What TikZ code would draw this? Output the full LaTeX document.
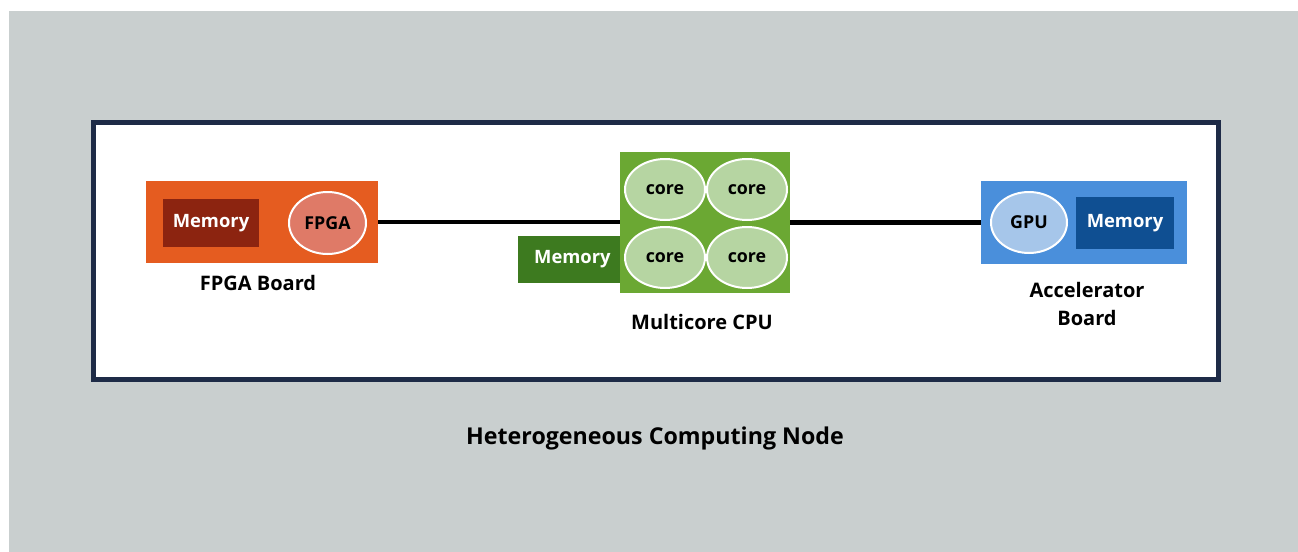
\documentclass[tikz,border=0pt]{standalone}
\usepackage{fontspec}
\setmainfont{Open Sans}
\usetikzlibrary{shapes.geometric}

\definecolor{bggray}{HTML}{C9CFCF}
\definecolor{framenavy}{HTML}{1E2B47}
\definecolor{fpgaorange}{HTML}{E55C20}
\definecolor{fpgamem}{HTML}{8C2410}
\definecolor{fpgachip}{HTML}{DF7A67}
\definecolor{cpugreen}{HTML}{6BA833}
\definecolor{cpumem}{HTML}{3D7A1F}
\definecolor{coregreen}{HTML}{B6D5A2}
\definecolor{accblue}{HTML}{4A8FDB}
\definecolor{gpublue}{HTML}{A6C6EA}
\definecolor{accmem}{HTML}{0F4F92}

\begin{document}
\begin{tikzpicture}[
        x=0.5pt, y=-0.5pt,
        board/.style={inner sep=0pt, minimum width=#1},
        memblock/.style={inner sep=0pt, text=white, font=\bfseries\fontsize{9.2}{11}\selectfont},
        chip/.style={ellipse, draw=white, line width=1pt, inner sep=0pt, font=\bfseries\fontsize{8.9}{10}\selectfont},
        caption/.style={align=center, font=\bfseries\fontsize{10}{14}\selectfont},
        link/.style={line width=2.3pt, black}
    ]
    \useasboundingbox (0,0) rectangle (1298,552);

    % background and frame of the node
    \fill[bggray] (9,11) rectangle (1298,552);
    \draw[framenavy, line width=2.5pt, fill=white] (93.5,122.5) rectangle (1218.5,379.5);

    % FPGA board
    \node[board=116pt, minimum height=41pt, fill=fpgaorange] (fpgaboard) at (262,222) {};
    \node[memblock, minimum width=48pt, minimum height=24pt, fill=fpgamem] (fpgamemory) at (211,223) {Memory};
    \node[chip, minimum width=38.5pt, minimum height=31pt, fill=fpgachip] (fpga) at (327.5,223) {FPGA};
    \node[caption] (fpgalabel) at (258,283) {FPGA Board};

    % multicore CPU
    \node[memblock, minimum width=54pt, minimum height=23.5pt, fill=cpumem, anchor=west] (cpumemory) at (518,259.5) {Memory};
    \node[board=85pt, minimum height=70.5pt, fill=cpugreen] (cpu) at (705,222.5) {};
    \node[chip, minimum width=40pt, minimum height=30.5pt, fill=coregreen] (core1) at (665,189.5) {core};
    \node[chip, minimum width=40pt, minimum height=30.5pt, fill=coregreen] (core2) at (747,189.5) {core};
    \node[chip, minimum width=40pt, minimum height=30.5pt, fill=coregreen] (core3) at (665,257.5) {core};
    \node[chip, minimum width=40pt, minimum height=30.5pt, fill=coregreen] (core4) at (747,257.5) {core};
    \node[caption] (cpulabel) at (702,322) {Multicore CPU};

    % accelerator board
    \node[board=103pt, minimum height=41.5pt, fill=accblue] (accboard) at (1084,222.5) {};
    \node[chip, minimum width=38pt, minimum height=30.5pt, fill=gpublue] (gpu) at (1029,222.5) {GPU};
    \node[memblock, minimum width=49pt, minimum height=26pt, fill=accmem] (accmemory) at (1125,223) {Memory};
    \node[caption] (acclabel) at (1087,304) {Accelerator\\Board};

    % links
    \draw[link] (fpgaboard.east) -- (cpu.west |- fpgaboard.east);
    \draw[link] (cpu.east) -- (accboard.west);

    \node[caption, font=\bfseries\fontsize{11.6}{14}\selectfont] (title) at (655,438) {Heterogeneous Computing Node};
\end{tikzpicture}
\end{document}
